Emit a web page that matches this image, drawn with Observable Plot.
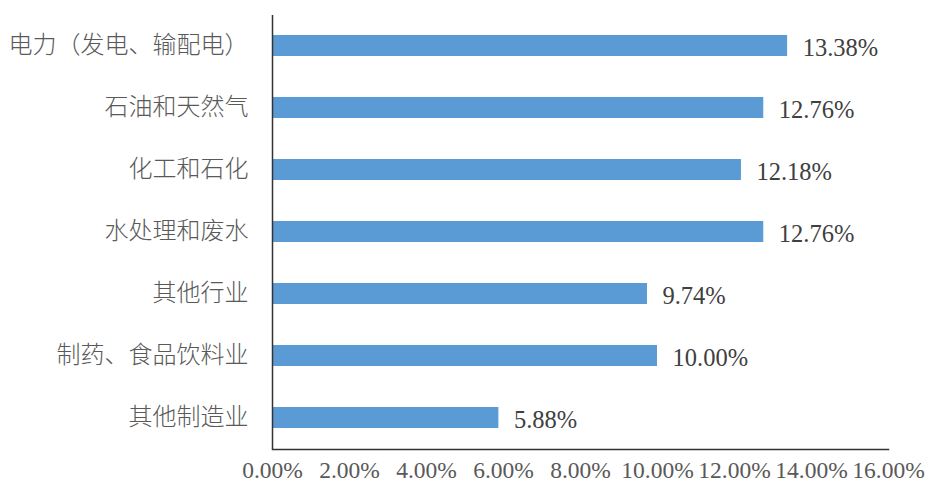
<!DOCTYPE html>
<html><head><meta charset="utf-8">
<script src="https://cdn.jsdelivr.net/npm/d3@7"></script>
<script src="https://cdn.jsdelivr.net/npm/@observablehq/plot@0.6"></script>
<style>body{margin:0;background:#fff}</style>
</head><body><div id="chart"></div>
<script>
const categories = ["电力（发电、输配电）","石油和天然气","化工和石化","水处理和废水","其他行业","制药、食品饮料业","其他制造业"];
const values = [13.38, 12.76, 12.18, 12.76, 9.74, 10.00, 5.88];
const xTicks = [0,2,4,6,8,10,12,14,16];
const data = categories.map((c,i)=>({c, v: values[i]}));
const chart = Plot.plot({
  width: 926, height: 484,
  marginLeft: 272, marginRight: 38, marginTop: 15, marginBottom: 35,
  style: {fontSize: "17px", background: "#fff"},
  x: {domain: [0,16], ticks: xTicks, tickFormat: d => d.toFixed(2) + "%", label: null},
  y: {domain: categories, paddingInner: 0.66, paddingOuter: 0.33, label: null},
  marks: [
    Plot.barX(data, {x: "v", y: "c", fill: "#5B9BD5"}),
    Plot.text(data, {x: "v", y: "c", text: d => d.v.toFixed(2) + "%", textAnchor: "start", dx: 15, dy: 2, fill: "#404040", fontFamily: "Liberation Serif", fontSize: 24.5}),
    Plot.axisX({ticks: xTicks, tickFormat: d => d.toFixed(2) + "%", tickSize: 0, tickPadding: 12, fontFamily: "Liberation Serif", fontSize: 23.5, fill: "#595959", label: null}),
    Plot.axisY({tickSize: 0, tickPadding: 24, fontFamily: "Noto Sans CJK SC", fontSize: 24, fontWeight: 300, fill: "#595959", label: null, dy: -1}),
    Plot.ruleX([0], {stroke: "#333", strokeWidth: 1.5}),
    Plot.frame({anchor: "bottom", stroke: "#333", strokeWidth: 1.5})
  ]
});
document.getElementById("chart").appendChild(chart);
</script></body></html>
